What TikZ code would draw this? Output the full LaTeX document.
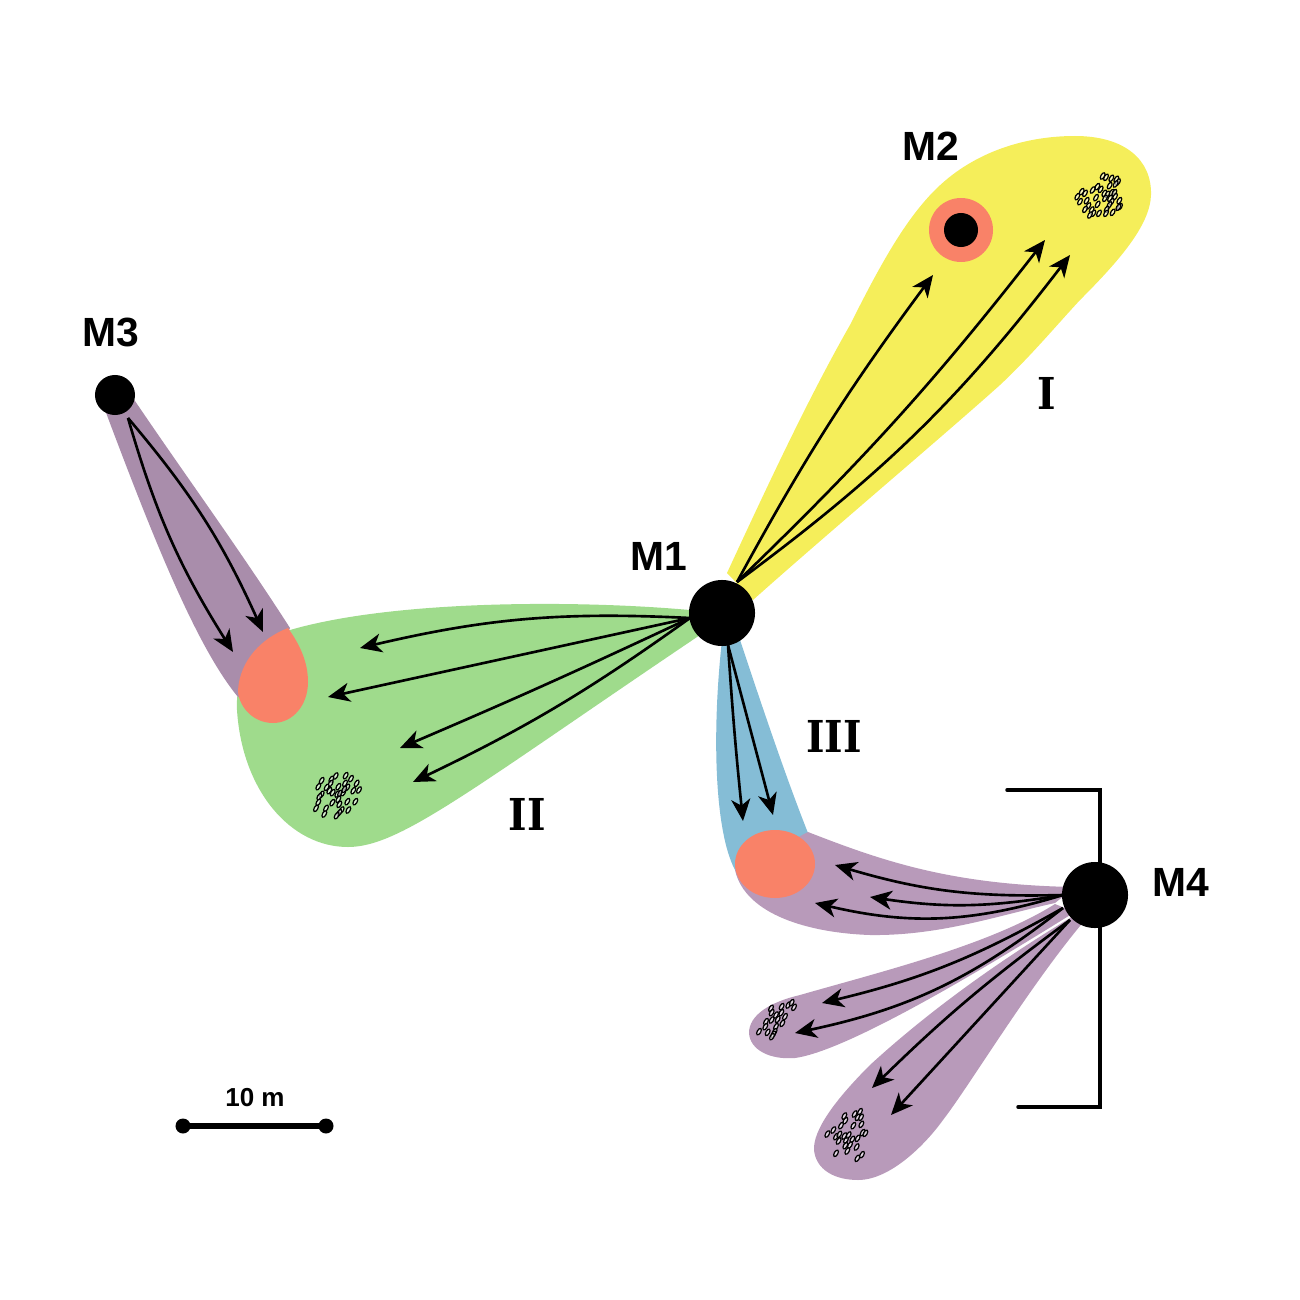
\documentclass[tikz,border=0pt]{standalone}
\usepackage{fontspec}
\setmainfont{Liberation Sans}
\newfontfamily\romanfont{DejaVu Serif Condensed}
\usetikzlibrary{arrows.meta}
\definecolor{zoneyellow}{HTML}{F5EE5A}
\definecolor{zonegreen}{HTML}{9FDB8C}
\definecolor{zoneblue}{HTML}{85BDD6}
\definecolor{zonepurple}{HTML}{B89ABA}
\definecolor{zonemauve}{HTML}{A98DAB}
\definecolor{overlapred}{HTML}{F98268}
\tikzset{
	flow/.style={draw=black, line width=0.75pt, -{Stealth[length=6.2pt, width=5.4pt, inset=1.8pt]}},
	site/.style={circle, fill=black, inner sep=0pt, outer sep=0pt},
	sitelabel/.style={font=\fontsize{11.6}{13}\selectfont\bfseries, inner sep=0pt},
	zonelabel/.style={font=\fontsize{12.5}{14}\romanfont\bfseries, inner sep=0pt},
	pebble/.style={draw=black, line width=0.35pt, fill=white, fill opacity=0.6}
}
\begin{document}
\begin{tikzpicture}[x=0.01cm, y=-0.01cm]
	\useasboundingbox (0,0) rectangle (1300,1300);
	\fill[zoneyellow] (727,573) .. controls (770,480) and (810,395) .. (850,325) .. controls (880,265) and (905,220) .. (935,190) .. controls (970,155) and (1020,136) .. (1075,136) .. controls (1125,136) and (1152,160) .. (1151,195) .. controls (1150,225) and (1120,260) .. (1080,300) .. controls (1055,327) and (1030,357) .. (1000,385) .. controls (950,430) and (820,540) .. (753,600) -- cycle;
	\fill[zonegreen] (710,612) .. controls (600,600) and (400,598) .. (290,630) .. controls (250,650) and (235,680) .. (237,710) .. controls (242,790) and (290,847) .. (348,847) .. controls (400,847) and (470,790) .. (700,635) -- cycle;
	\fill[zonemauve] (102,402) -- (133,398) .. controls (185,475) and (240,550) .. (290,628) -- (260,700) -- (238,697) .. controls (195,645) and (150,530) .. (102,402) -- cycle;
	\fill[zoneblue] (722,640) -- (740,640) .. controls (760,700) and (785,775) .. (808,833) -- (780,880) -- (735,870) .. controls (714,830) and (712,730) .. (722,640) -- cycle;
	\fill[zonepurple] (808,832) .. controls (880,860) and (950,885) .. (1075,887) -- (1055,903) .. controls (1000,915) and (940,936) .. (870,935) .. controls (810,933) and (745,915) .. (735,870) -- cycle;
	\fill[zonepurple] (1055,904) .. controls (990,945) and (880,972) .. (800,995) .. controls (770,1002) and (749,1015) .. (749,1033) .. controls (750,1050) and (770,1060) .. (795,1058) .. controls (840,1052) and (950,990) .. (1075,912) -- cycle;
	\fill[zonepurple] (1075,915) .. controls (1000,960) and (930,1010) .. (870,1065) .. controls (835,1100) and (813,1130) .. (814,1150) .. controls (816,1170) and (835,1180) .. (858,1180) .. controls (890,1180) and (925,1145) .. (943,1120) .. controls (970,1085) and (1030,985) .. (1085,920) -- cycle;
	\fill[overlapred] (288,628) .. controls (300,645) and (308,662) .. (308,682) .. controls (308,705) and (293,723) .. (273,723) .. controls (252,723) and (238,705) .. (238,690) .. controls (240,660) and (262,638) .. (288,628) -- cycle;
	\fill[overlapred] (775,864) ellipse (40 and 34);
	\fill[overlapred] (961,230) circle (32);
	\foreach \x/\y in {158/78,168/82,184/85,199/88,204/96,197/102,179/107,142/110,128/120,152/118,95/125,105/130,82/140,90/155,110/152,138/143,163/130,172/133,185/128,193/128,165/145,180/145,195/140,208/152,210/170,205/172,185/155,178/165,143/163,115/168,105/178,125/180,130/190,120/195,147/190,170/178,168/190,188/187}
		\draw[pebble, shift={({1050+\x/3},{150+\y/3})}, rotate=60] (0,0) ellipse (3.6 and 1.8);
	\foreach \x/\y in {95/92,85/110,137/78,124/88,122/100,167/77,183/86,200/100,207/120,190/122,165/100,172/112,145/110,110/112,118/122,128/128,142/132,150/130,160/128,163/118,95/133,88/140,85/157,78/175,145/148,148/163,127/158,108/175,103/192,172/155,196/155,175/180,155/180,148/188,140/197}
		\draw[pebble, shift={({290+\x/3},{750+\y/3})}, rotate=60] (0,0) ellipse (3.6 and 1.8);
	\foreach \x/\y in {93/85,95/98,125/80,124/98,108/105,113/118,95/120,78/125,76/140,135/110,127/130,108/140,83/157,57/155,104/155,100/163,96/170,145/75,155/68,162/82,313/408,316/422,303/437,344/402,360/395,353/412,363/412,340/437,364/433,280/450,262/462,368/458,376/460,288/470,298/463,296/483,313/468,318/480,326/465,337/478,353/475,316/497,330/495,322/513,350/501,288/520,352/535,366/524}
		\draw[pebble, shift={({740+\x/3},{980+\y/3})}, rotate=60] (0,0) ellipse (3.6 and 1.8);
	\coordinate (bracketa) at (1007,790);
	\coordinate (bracketb) at (1100,790);
	\coordinate (bracketc) at (1100,1107);
	\coordinate (bracketd) at (1018,1107);
	\draw[line width=1pt, line cap=round] (bracketa) -- (bracketb) -- (bracketc) -- (bracketd);
	\node[site, minimum size=0.66cm] (mone) at (722,613) {};
	\node[site, minimum size=0.34cm] (mtwo) at (961,230) {};
	\node[site, minimum size=0.40cm] (mthree) at (115,395) {};
	\node[site, minimum size=0.66cm] (mfour) at (1095,895) {};
	\node[sitelabel] (lone) at (659,556) {M1};
	\node[sitelabel] (ltwo) at (931,146) {M2};
	\node[sitelabel] (lthree) at (111,332) {M3};
	\node[sitelabel] (lfour) at (1181,882) {M4};
	\node[zonelabel] (zi) at (1047,393) {I};
	\node[zonelabel] (zii) at (527,814) {II};
	\node[zonelabel] (ziii) at (834,736) {III};
	\coordinate (moneup) at (737,582);
	\coordinate (moneleft) at (690,618);
	\coordinate (monedown) at (728,645);
	\coordinate (mthreedown) at (128,418);
	\coordinate (mfourtop) at (1063,895);
	\coordinate (mfourmid) at (1063,908);
	\coordinate (mfourlow) at (1070,920);
	\coordinate (ya) at (933,275);
	\coordinate (yb) at (1045,240);
	\coordinate (yc) at (1070,255);
	\coordinate (ga) at (360,648);
	\coordinate (gb) at (328,697);
	\coordinate (gc) at (400,748);
	\coordinate (gd) at (413,782);
	\coordinate (ra) at (233,652);
	\coordinate (rb) at (263,632);
	\coordinate (ba) at (743,821);
	\coordinate (bb) at (773,815);
	\coordinate (pa) at (835,865);
	\coordinate (pb) at (870,897);
	\coordinate (pc) at (815,903);
	\coordinate (pd) at (822,1003);
	\coordinate (pe) at (795,1033);
	\coordinate (pf) at (872,1088);
	\coordinate (pg) at (891,1115);
	\draw[flow] (moneup) to[bend left=4] (ya);
	\draw[flow] (moneup) to[bend right=4] (yb);
	\draw[flow] (moneup) to[bend right=8] (yc);
	\draw[flow] (moneleft) to[bend right=8] (ga);
	\draw[flow] (moneleft) to (gb);
	\draw[flow] (moneleft) to[bend left=1] (gc);
	\draw[flow] (moneleft) to[bend left=5] (gd);
	\draw[flow] (mthreedown) to[bend right=8] (ra);
	\draw[flow] (mthreedown) to[bend left=8] (rb);
	\draw[flow] (monedown) to[bend right=1] (ba);
	\draw[flow] (monedown) to (bb);
	\draw[flow] (mfourtop) to[bend left=9] (pa);
	\draw[flow] (mfourtop) to[bend left=9] (pb);
	\draw[flow] (mfourtop) to[bend left=15] (pc);
	\draw[flow] (mfourmid) to[bend left=8] (pd);
	\draw[flow] (mfourmid) to[bend left=13] (pe);
	\draw[flow] (mfourlow) to[bend right=4] (pf);
	\draw[flow] (mfourlow) to (pg);
	\node[site, minimum size=0.15cm] (scalea) at (183,1126) {};
	\node[site, minimum size=0.15cm] (scaleb) at (326,1126) {};
	\draw[line width=1.5pt] (scalea.center) -- (scaleb.center);
	\node[font=\fontsize{7.4}{9}\selectfont\bfseries, inner sep=0pt] (scaletext) at (255,1098) {10 m};
\end{tikzpicture}
\end{document}
